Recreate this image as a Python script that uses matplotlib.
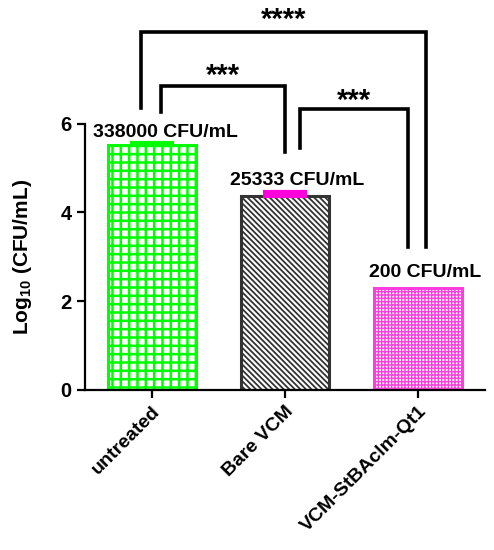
import matplotlib
matplotlib.use("Agg")
import matplotlib.pyplot as plt

plt.rcParams["font.family"] = ["Liberation Sans", "DejaVu Sans"]
plt.rcParams["font.weight"] = "bold"
plt.rcParams["mathtext.fontset"] = "custom"
plt.rcParams["mathtext.rm"] = "Liberation Sans:bold"
plt.rcParams["mathtext.bf"] = "Liberation Sans:bold"
plt.rcParams["mathtext.default"] = "bf"

groups = ["untreated", "Bare VCM", "VCM-StBAclm-Qt1"]
log_cfu = [5.52, 4.38, 2.30]
sem = [0.05, 0.08, 0.0]
cfu_labels = ["338000 CFU/mL", "25333 CFU/mL", "200 CFU/mL"]
edge_colors = ["#00ff00", "#333333", "#ff3ddc"]
err_colors = ["#00ff00", "#ff00dd", "#ff3ddc"]
hatches = ["++", "\\\\\\\\\\\\", "+++++"]
hatch_lw = [1.8, 1.3, 1.0]

# significance brackets: (x_left, x_right, y_top, y_left_end, y_right_end, label, label_y)
brackets = [
    (-0.08, 2.06, 8.06, 6.35, 3.22, "****", 8.17),
    (0.07, 1.00, 6.85, 6.26, 5.36, "***", 6.90),
    (1.11, 1.92, 6.33, 5.45, 3.22, "***", 6.33),
]

fig = plt.figure(figsize=(4.94, 5.5), dpi=100)
ax = fig.add_axes([0.172, 0.291, 0.810, 0.484])

x = list(range(len(groups)))
for i in x:
    bars = ax.bar(i, log_cfu[i], width=0.66, facecolor="white",
                  edgecolor=edge_colors[i], hatch=hatches[i],
                  linewidth=2.2, zorder=2)
    for b in bars:
        b.set_hatch_linewidth(hatch_lw[i])
    if sem[i] > 0:
        ax.errorbar(i, log_cfu[i], yerr=[[0], [sem[i]]], fmt="none",
                    ecolor=err_colors[i], elinewidth=2.2, capsize=16,
                    capthick=3, zorder=3)

label_pos = [(0.10, 5.81), (1.09, 4.73), (2.05, 2.64)]
for (lx, ly), txt in zip(label_pos, cfu_labels):
    ax.text(lx, ly, txt, ha="center", va="center", fontsize=14,
            fontweight="bold")

for xl, xr, yt, yl, yr, lab, ly in brackets:
    ax.plot([xl, xl, xr, xr], [yl, yt, yt, yr], color="black", lw=2.6,
            clip_on=False, solid_joinstyle="miter", zorder=4)
    ax.text((xl + xr) / 2, ly, lab, ha="center", va="baseline",
            fontsize=21, fontweight="bold", clip_on=False)

ax.set_xlim(-0.5, 2.5)
ax.set_ylim(0, 6)
ax.set_yticks([0, 2, 4, 6])
ax.set_xticks(x)
ax.set_xticklabels(groups, rotation=45, ha="right", rotation_mode="anchor",
                   fontsize=14, fontweight="bold")
ax.tick_params(axis="y", labelsize=14.5, width=1.6, length=6)
ax.tick_params(axis="x", width=1.6, length=6)
for lbl in ax.get_yticklabels():
    lbl.set_fontweight("bold")
ax.set_ylabel(r"Log$_{10}$ (CFU/mL)", fontsize=15, fontweight="bold",
              labelpad=19)

ax.spines["top"].set_visible(False)
ax.spines["right"].set_visible(False)
ax.spines["left"].set_linewidth(1.6)
ax.spines["bottom"].set_linewidth(1.6)

fig.savefig("out.png", dpi=100)
